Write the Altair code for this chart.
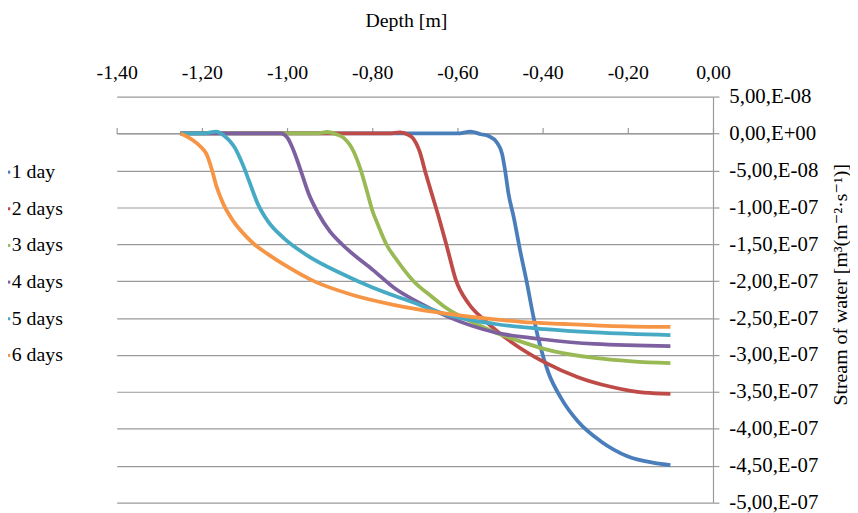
import altair as alt
import pandas as pd

SERIES = ["1 day", "2 days", "3 days", "4 days", "5 days", "6 days"]
COLORS = ["#4A7EBB", "#BE4B48", "#98B954", "#7D60A0", "#46AAC5", "#F59545"]

X_TICKS = [-1.4, -1.2, -1.0, -0.8, -0.6, -0.4, -0.2, 0.0]
X_LABELS = ["-1,40", "-1,20", "-1,00", "-0,80", "-0,60", "-0,40", "-0,20", "0,00"]
Y_TICKS = [5e-8, 0.0, -5e-8, -1e-7, -1.5e-7, -2e-7, -2.5e-7, -3e-7,
           -3.5e-7, -4e-7, -4.5e-7, -5e-7]
Y_LABELS = ["5,00,E-08", "0,00,E+00", "-5,00,E-08", "-1,00,E-07", "-1,50,E-07",
            "-2,00,E-07", "-2,50,E-07", "-3,00,E-07", "-3,50,E-07", "-4,00,E-07",
            "-4,50,E-07", "-5,00,E-07"]

# depth [m] and stream of water [m3 m-2 s-1]
DAY1_X = [-1.25, -0.60, -0.569, -0.545, -0.527, -0.507, -0.495, -0.488, -0.480,
          -0.468, -0.453, -0.437, -0.422, -0.406, -0.387, -0.356, -0.317, -0.263,
          -0.201, -0.139, -0.10]
DAY1_Y = [0, 0, 2.5e-9, -1e-9, -3.5e-9, -12.5e-9, -28e-9, -50.5e-9, -82e-9,
          -113e-9, -158e-9, -202e-9, -247e-9, -287e-9, -323e-9, -359e-9, -390e-9,
          -417e-9, -437e-9, -446e-9, -449e-9]

DAY2_X = [-1.25, -0.76, -0.735, -0.718, -0.705, -0.689, -0.674, -0.658, -0.643,
          -0.623, -0.604, -0.573, -0.534, -0.472, -0.395, -0.317, -0.240, -0.162,
          -0.10]
DAY2_Y = [0, 0, 1.5e-9, -1e-9, -6e-9, -24e-9, -55e-9, -86e-9, -115e-9,
          -157e-9, -198e-9, -231e-9, -254e-9, -283e-9, -310e-9, -330e-9, -343e-9,
          -351e-9, -352.5e-9]

DAY3_X = [-1.25, -0.93, -0.906, -0.885, -0.867, -0.844, -0.829, -0.813, -0.800,
          -0.785, -0.767, -0.744, -0.703, -0.66, -0.627, -0.57, -0.511, -0.45,
          -0.395, -0.278, -0.19, -0.10]
DAY3_Y = [0, 0, 2e-9, -1e-9, -6e-9, -24e-9, -46e-9, -77e-9, -104e-9,
          -126e-9, -150e-9, -170e-9, -200e-9, -221e-9, -236e-9, -254e-9, -269.5e-9,
          -282e-9, -292e-9, -304e-9, -308.5e-9, -311e-9]

DAY4_X = [-1.25, -1.05, -1.015, -0.999, -0.984, -0.968, -0.949, -0.926, -0.899,
          -0.871, -0.852, -0.798, -0.744, -0.697, -0.627, -0.511, -0.395,
          -0.278, -0.10]
DAY4_Y = [0, 0, 0, -6e-9, -24e-9, -50e-9, -82e-9, -109e-9, -133e-9,
          -150e-9, -160e-9, -185e-9, -211e-9, -227e-9, -247e-9, -269.5e-9,
          -279e-9, -285e-9, -288e-9]

DAY5_X = [-1.25, -1.20, -1.166, -1.147, -1.135, -1.123, -1.104, -1.088, -1.069,
          -1.046, -1.007, -0.953, -0.875, -0.798, -0.713, -0.627, -0.511, -0.395,
          -0.278, -0.10]
DAY5_Y = [0, 0, 2.5e-9, -3.5e-9, -10e-9, -19e-9, -42e-9, -66e-9, -95e-9,
          -118e-9, -142e-9, -165e-9, -189e-9, -209e-9, -227e-9, -245e-9, -258e-9,
          -265e-9, -269.5e-9, -273e-9]

DAY6_X = [-1.25, -1.224, -1.201, -1.189, -1.178, -1.166, -1.150, -1.127, -1.10,
          -1.077, -1.046, -1.00, -0.937, -0.85, -0.75, -0.65, -0.55, -0.45,
          -0.35, -0.25, -0.10]
DAY6_Y = [0, -8e-9, -19e-9, -28e-9, -46e-9, -71e-9, -95e-9, -118e-9, -137e-9,
          -150e-9, -163e-9, -180e-9, -200e-9, -218e-9, -232e-9, -242e-9, -249.5e-9,
          -255e-9, -258e-9, -260.5e-9, -262e-9]

XS = [DAY1_X, DAY2_X, DAY3_X, DAY4_X, DAY5_X, DAY6_X]
YS = [DAY1_Y, DAY2_Y, DAY3_Y, DAY4_Y, DAY5_Y, DAY6_Y]

rows = []
for name, xs, ys in zip(SERIES, XS, YS):
    for i, (x, y) in enumerate(zip(xs, ys)):
        rows.append({"series": name, "depth": x, "flow": y, "idx": i})
df = pd.DataFrame(rows)

FONT = "Liberation Serif, Times New Roman, Tinos, DejaVu Serif, serif"
GRID = "#9a9a9a"

W, H = 602, 410
Y_MIN, Y_MAX = -5e-7, 5e-8
ZERO_OFFSET = H * (Y_MAX - 0.0) / (Y_MAX - Y_MIN)

x_expr = ("[" + ",".join("'%s'" % s for s in X_LABELS) + "][indexof(["
          + ",".join(str(int(round(v * 100))) for v in X_TICKS)
          + "], round(datum.value*100))]")
y_expr = ("[" + ",".join("'%s'" % s for s in Y_LABELS) + "][indexof(["
          + ",".join(str(int(round(v * 1e8))) for v in Y_TICKS)
          + "], round(datum.value*1e8))]")

x_axis = alt.Axis(
    orient="top", offset=-ZERO_OFFSET, values=X_TICKS, labelExpr=x_expr,
    grid=False, domainColor=GRID, domainWidth=1.2, tickColor=GRID, tickWidth=1.2,
    tickSize=6, labelFont=FONT, labelFontSize=20, labelColor="#000000",
    labelPadding=49, labelBaseline="alphabetic", labelFlush=False, labelOverlap=False,
    title="Depth [m]", titleFont=FONT, titleFontSize=20, titleFontWeight="normal",
    titleColor="#000000", titleX=292, titleY=24 - (95 + ZERO_OFFSET),
    titleBaseline="alphabetic", titleAlign="center",
)

y_axis = alt.Axis(
    orient="right", values=Y_TICKS, labelExpr=y_expr,
    grid=True, gridColor=GRID, gridWidth=1.2,
    domainColor=GRID, domainWidth=1.2, tickColor=GRID, tickWidth=1.2, tickSize=6,
    labelFont=FONT, labelFontSize=21, labelColor="#000000", labelPadding=10,
    labelAlign="left", labelBaseline="middle", labelFlush=False, labelOverlap=False,
    title="Stream of water [m³(m⁻²·s⁻¹)]", titleFont=FONT, titleFontSize=20,
    titleFontWeight="normal", titleColor="#000000", titleAngle=270,
    titleX=135, titleY=189.5, titleBaseline="alphabetic", titleAlign="center",
)

legend = alt.Legend(
    orient="none", legendX=-131.9, legendY=64.8, title=None,
    symbolType="stroke", symbolSize=400, symbolStrokeWidth=3, symbolOffset=3,
    labelFont=FONT, labelFontSize=20, labelColor="#000000", labelOffset=0,
    rowPadding=15, padding=0,
)

chart = alt.Chart(df).mark_line(strokeWidth=3.8, interpolate="monotone").encode(
    x=alt.X("depth:Q", scale=alt.Scale(domain=[-1.4, 0.0], nice=False, zero=False),
            axis=x_axis),
    y=alt.Y("flow:Q", scale=alt.Scale(domain=[Y_MIN, Y_MAX], nice=False, zero=False),
            axis=y_axis),
    color=alt.Color("series:N", sort=SERIES,
                    scale=alt.Scale(domain=SERIES, range=COLORS), legend=legend),
    order=alt.Order("idx:Q"),
).properties(
    width=W, height=H,
    padding={"left": 109.7, "top": 87, "right": 850 - 109.7 - W, "bottom": 505 - 87 - H},
    autosize=alt.AutoSizeParams(type="none"),
    background="#ffffff",
).configure(
    font=FONT,
).configure_axis(
    labelFont=FONT, titleFont=FONT,
).configure_legend(
    labelFont=FONT,
).configure_view(stroke=None)

chart.save("out.html", embed_options={"renderer": "svg", "actions": False})
